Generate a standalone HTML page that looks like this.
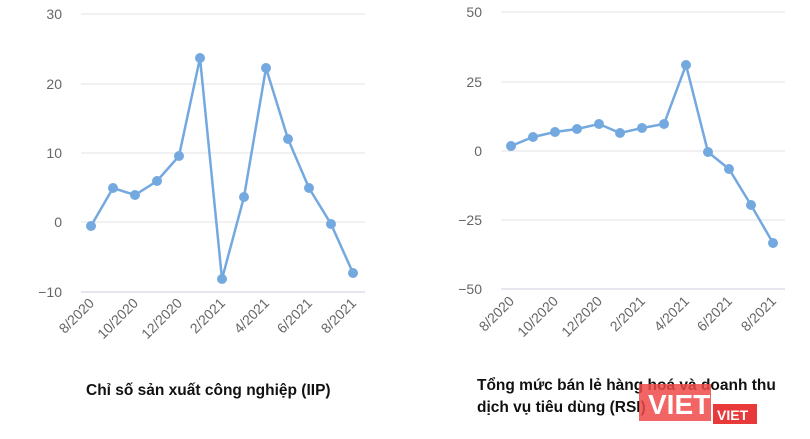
<!DOCTYPE html>
<html><head><meta charset="utf-8"><style>
body{margin:0;background:#fff;width:810px;height:434px;overflow:hidden}
svg text{font-family:"Liberation Sans",sans-serif}
</style></head><body>
<svg width="810" height="434" xmlns="http://www.w3.org/2000/svg">
<g stroke="#e3e3e3" stroke-width="1">
<line x1="81" x2="365" y1="14" y2="14"/><line x1="81" x2="365" y1="84" y2="84"/><line x1="81" x2="365" y1="153" y2="153"/><line x1="81" x2="365" y1="222" y2="222"/><line x1="81" x2="365" y1="292" y2="292" stroke="#ccd"/>
<line x1="501" x2="785" y1="12" y2="12"/><line x1="501" x2="785" y1="82" y2="82"/><line x1="501" x2="785" y1="151" y2="151"/><line x1="501" x2="785" y1="220" y2="220"/><line x1="501" x2="785" y1="289" y2="289" stroke="#ccd"/>
</g>
<g fill="#666" font-size="14" text-anchor="end">
<text x="62" y="19">30</text><text x="62" y="89">20</text><text x="62" y="158">10</text><text x="62" y="227">0</text><text x="62" y="297">−10</text>
<text x="482" y="17">50</text><text x="482" y="87">25</text><text x="482" y="156">0</text><text x="482" y="225">−25</text><text x="482" y="294">−50</text>
</g>
<g fill="#666" font-size="14" text-anchor="end">
<text transform="translate(95,304) rotate(-45)">8/2020</text>
<text transform="translate(139,304) rotate(-45)">10/2020</text>
<text transform="translate(183,304) rotate(-45)">12/2020</text>
<text transform="translate(226,304) rotate(-45)">2/2021</text>
<text transform="translate(270,304) rotate(-45)">4/2021</text>
<text transform="translate(313,304) rotate(-45)">6/2021</text>
<text transform="translate(357,304) rotate(-45)">8/2021</text>
<text transform="translate(515,302) rotate(-45)">8/2020</text>
<text transform="translate(559,302) rotate(-45)">10/2020</text>
<text transform="translate(603,302) rotate(-45)">12/2020</text>
<text transform="translate(646,302) rotate(-45)">2/2021</text>
<text transform="translate(690,302) rotate(-45)">4/2021</text>
<text transform="translate(733,302) rotate(-45)">6/2021</text>
<text transform="translate(777,302) rotate(-45)">8/2021</text>
</g>
<g fill="none" stroke="#74a9e0" stroke-width="2.5">
<polyline points="91,226 113,188 135,195 157,181 179,156 200,58 222,279 244,197 266,68 288,139 309,188 331,224 353,273"/>
<polyline points="511,146 533,137 555,132 577,129 599,124 620,133 642,128 664,124 686,65 708,152 729,169 751,205 773,243"/>
</g>
<g fill="#74a9e0">
<circle cx="91" cy="226" r="5"/><circle cx="113" cy="188" r="5"/><circle cx="135" cy="195" r="5"/><circle cx="157" cy="181" r="5"/><circle cx="179" cy="156" r="5"/><circle cx="200" cy="58" r="5"/><circle cx="222" cy="279" r="5"/><circle cx="244" cy="197" r="5"/><circle cx="266" cy="68" r="5"/><circle cx="288" cy="139" r="5"/><circle cx="309" cy="188" r="5"/><circle cx="331" cy="224" r="5"/><circle cx="353" cy="273" r="5"/>
<circle cx="511" cy="146" r="5"/><circle cx="533" cy="137" r="5"/><circle cx="555" cy="132" r="5"/><circle cx="577" cy="129" r="5"/><circle cx="599" cy="124" r="5"/><circle cx="620" cy="133" r="5"/><circle cx="642" cy="128" r="5"/><circle cx="664" cy="124" r="5"/><circle cx="686" cy="65" r="5"/><circle cx="708" cy="152" r="5"/><circle cx="729" cy="169" r="5"/><circle cx="751" cy="205" r="5"/><circle cx="773" cy="243" r="5"/>
</g>
<g font-size="15.5" font-weight="bold" fill="#111">
<text x="86" y="395">Chỉ số sản xuất công nghiệp (IIP)</text>
<text x="477" y="390">Tổng mức bán lẻ hàng hoá và doanh thu</text>
<text x="477" y="412">dịch vụ tiêu dùng (RSI)</text>
</g>
<rect x="639" y="384" width="72" height="37" fill="#ee4a4a" opacity="0.85"/>
<text x="648" y="414" font-size="28" font-weight="bold" fill="#fff">VIET</text>
<rect x="713" y="404" width="44" height="20" fill="#e83a3a"/>
<text x="717" y="420" font-size="14" font-weight="bold" fill="#fff">VIET</text>
</svg>
</body></html>
